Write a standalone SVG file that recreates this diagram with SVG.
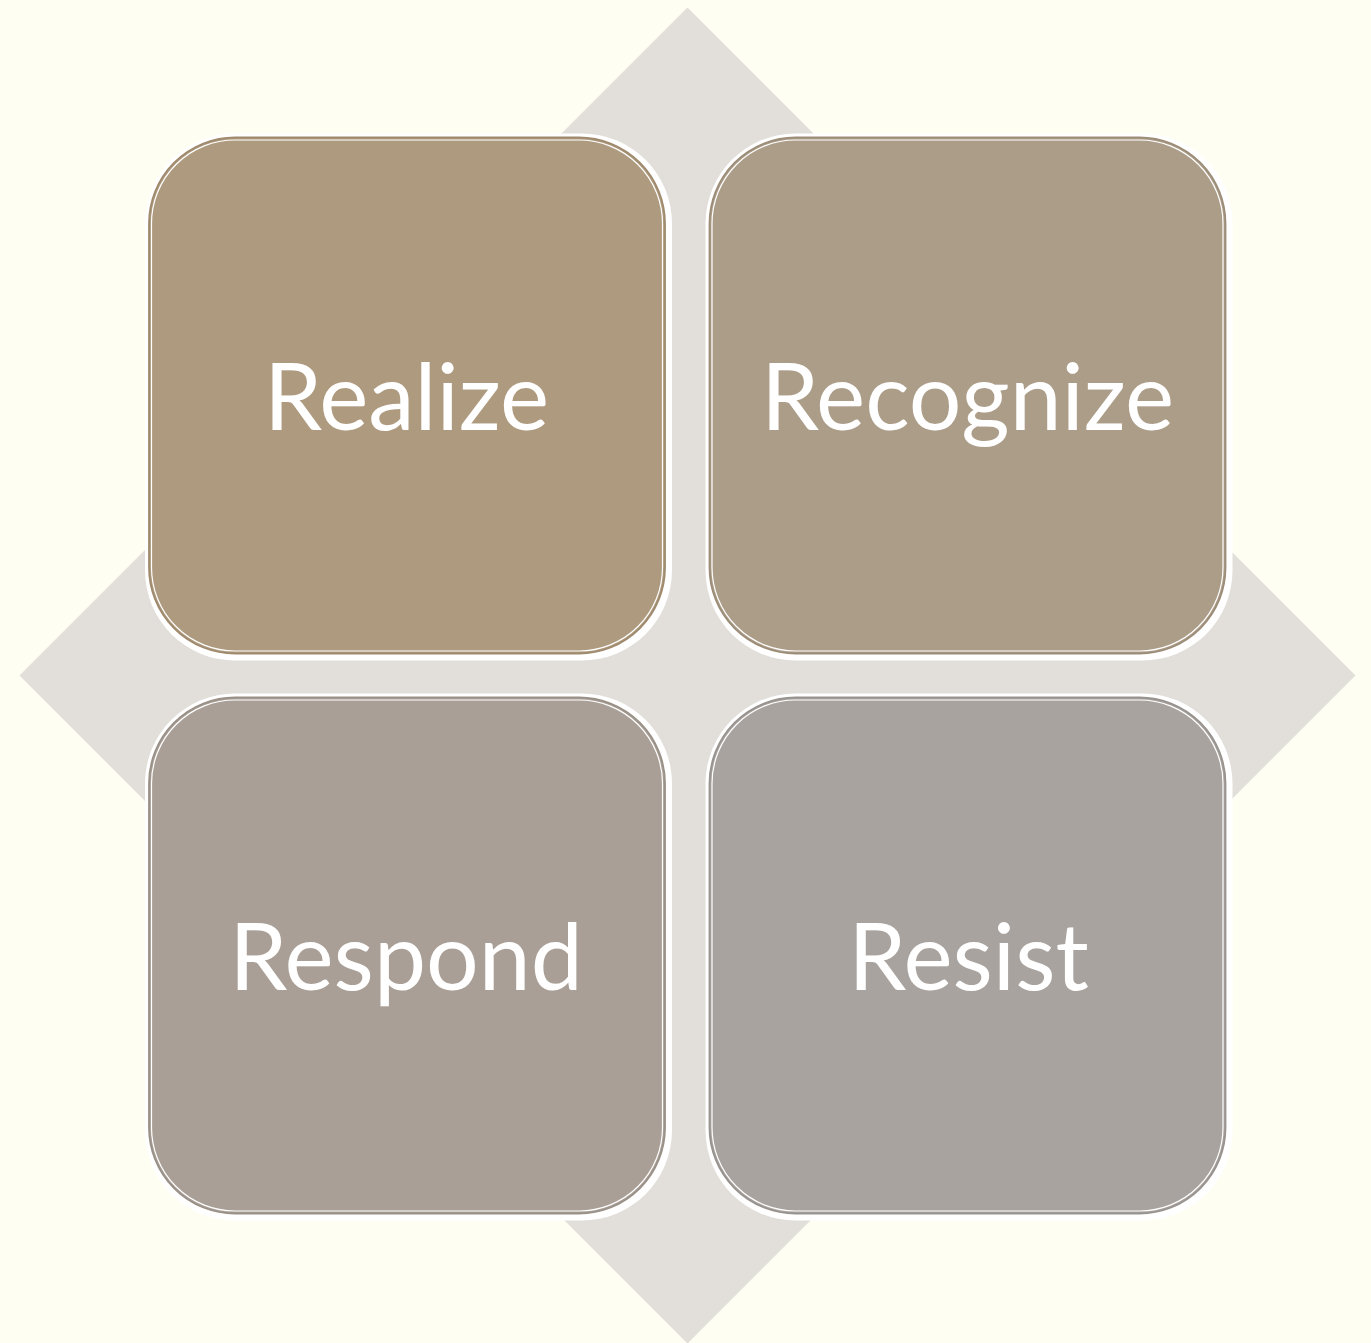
<svg xmlns="http://www.w3.org/2000/svg" width="1371" height="1343" viewBox="0 0 1371 1343">
  <style>
    .halo { fill: #FFFFFF; }
    .tile { stroke-width: 1.8; }
    .inner { fill: none; stroke: #FFFFFF; stroke-width: 1.2; }
    .label { font-family: "Lato", "Liberation Sans", sans-serif; font-size: 93px; fill: #FFFFFF; text-anchor: middle; }
  </style>
  <!-- page background -->
  <rect x="0" y="0" width="1371" height="1343" fill="#FEFEF3"/>
  <!-- backdrop diamond -->
  <g id="backdrop">
    <polygon points="687.5,7.5 1355.5,675.5 687.5,1343.5 19.5,675.5" fill="#E2DED9"/>
  </g>

  <g id="realize">
    <rect class="halo" x="145" y="133.5" width="527" height="527" rx="90"/>
    <rect class="tile" x="149" y="137.5" width="516" height="516" rx="86" fill="#AE9A7E" stroke="#9F8A6E"/>
    <rect class="inner" x="151.5" y="140" width="511" height="511" rx="83.5"/>
    <text class="label" x="406.5" y="430">Realize</text>
  </g>

  <g id="recognize">
    <rect class="halo" x="705.5" y="133.5" width="527" height="527" rx="90"/>
    <rect class="tile" x="709.5" y="137.5" width="516" height="516" rx="86" fill="#AC9D89" stroke="#9C8D79"/>
    <rect class="inner" x="712" y="140" width="511" height="511" rx="83.5"/>
    <text class="label" x="967.5" y="430">Recognize</text>
  </g>

  <g id="respond">
    <rect class="halo" x="145" y="693.5" width="527" height="527" rx="90"/>
    <rect class="tile" x="149" y="697.5" width="516" height="516" rx="86" fill="#A99F96" stroke="#999087"/>
    <rect class="inner" x="151.5" y="700" width="511" height="511" rx="83.5"/>
    <text class="label" x="406" y="990">Respond</text>
  </g>

  <g id="resist">
    <rect class="halo" x="705.5" y="693.5" width="527" height="527" rx="90"/>
    <rect class="tile" x="709.5" y="697.5" width="516" height="516" rx="86" fill="#A8A39F" stroke="#98938F"/>
    <rect class="inner" x="712" y="700" width="511" height="511" rx="83.5"/>
    <text class="label" x="968.5" y="990">Resist</text>
  </g>

  <g id="connectors"></g>
</svg>
